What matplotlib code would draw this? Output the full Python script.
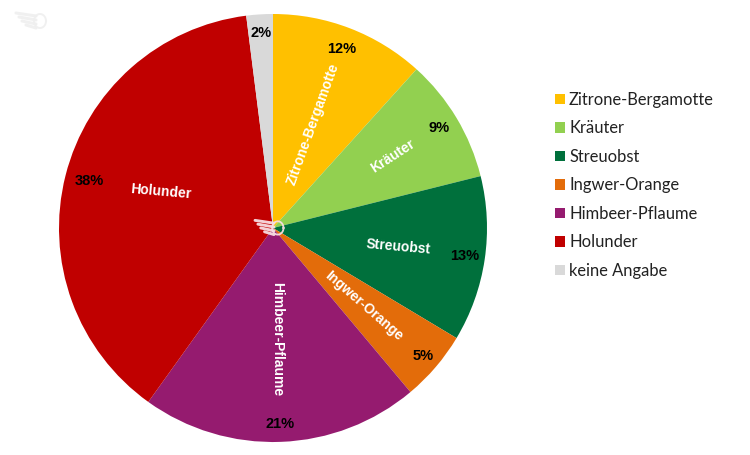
import numpy as np
import matplotlib
matplotlib.use("Agg")
import matplotlib.pyplot as plt
from matplotlib.patches import Patch

categories = ["Zitrone-Bergamotte", "Kräuter", "Streuobst", "Ingwer-Orange",
              "Himbeer-Pflaume", "Holunder", "keine Angabe"]
values = [11.7, 9.4, 12.5, 5.3, 21.0, 38.1, 2.0]
percent_labels = ["12%", "9%", "13%", "5%", "21%", "38%", "2%"]
colors = ["#FFC000", "#92D050", "#00703C", "#E36C0A", "#951B6F", "#C00000", "#D9D9D9"]
percent_radius = [0.895, 0.905, 0.905, 0.92, 0.915, 0.885, 0.915]
name_radius = [0.52, 0.65, 0.59, 0.56, 0.52, 0.55, None]
name_rotation = [70, 33, -5, -41, 270, -5, 0]
name_shift_deg = [0, 0, 0, 0, 0, 4, 0]

W, H = 750, 455
fig = plt.figure(figsize=(W / 100, H / 100), dpi=100, facecolor="white")
ax = fig.add_axes([0, 0, 1, 1])

cx, cy, R = 273, 227, 214
wedges, _ = ax.pie(values, colors=colors, startangle=90, counterclock=False,
                   center=(cx, cy), radius=R, frame=True)
ax.set_xlim(0, W)
ax.set_ylim(0, H)
ax.set_aspect("equal")
ax.axis("off")

bold = dict(family="Liberation Sans", fontweight="bold", ha="center", va="center")
for w, pct, pr, nr, rot, sh, name in zip(wedges, percent_labels, percent_radius, name_radius,
                                         name_rotation, name_shift_deg, categories):
    mid = (w.theta1 + w.theta2) / 2
    a = np.deg2rad(mid)
    ax.text(cx + pr * R * np.cos(a), cy + pr * R * np.sin(a), pct,
            color="black", fontsize=10.5, **bold)
    if nr is not None:
        b = np.deg2rad(mid - sh)
        ax.text(cx + nr * R * np.cos(b), cy + nr * R * np.sin(b), name,
                color="white", fontsize=10, rotation=rot, rotation_mode="anchor", **bold)


def logo(x0, y0, s, col, alpha):
    # small winged emblem used as a watermark
    for l, dy in zip([20, 17, 14, 10], [7, 3, -1, -5]):
        ax.plot([x0 - s * l, x0], [y0 + s * dy, y0 + s * (dy - 3)], color=col,
                lw=2.2 * s, alpha=alpha, solid_capstyle="round")
    t = np.linspace(0, 2 * np.pi, 40)
    ax.plot(x0 + s * (4 + 6 * np.cos(t)), y0 + s * (-1 + 7 * np.sin(t)), color=col,
            lw=1.4 * s, alpha=alpha)


logo(274, 228, 0.95, "#F8DDE2", 0.95)
logo(36, 435, 1.0, "#EFEFEF", 0.9)

handles = [Patch(facecolor=c, edgecolor="none") for c in colors]
ax.legend(handles, categories, loc="upper left", bbox_to_anchor=(555 / W, 1 - 92 / H),
          bbox_transform=fig.transFigure, frameon=False, ncols=1,
          prop={"family": "Lato", "size": 11.9}, labelcolor="#222222",
          handlelength=0.6, handleheight=0.6, handletextpad=0.25,
          labelspacing=0.755, borderpad=0, borderaxespad=0)

fig.savefig("out.png", dpi=100, facecolor="white")
